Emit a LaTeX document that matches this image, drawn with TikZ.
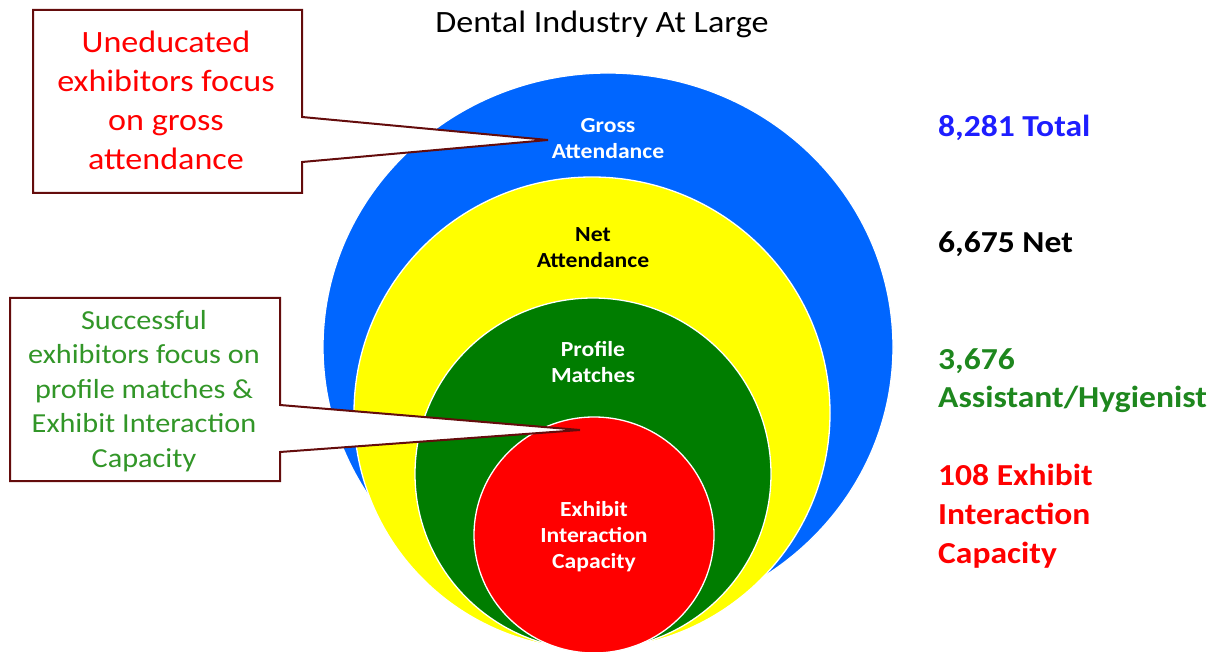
\documentclass[tikz,border=0pt]{standalone}
\usepackage{fontspec}
\setmainfont{Carlito}[FakeStretch=1.1]
\usetikzlibrary{positioning}
\definecolor{ringblue}{RGB}{0,102,255}
\definecolor{ringyellow}{RGB}{255,255,0}
\definecolor{ringgreen}{RGB}{0,125,0}
\definecolor{ringred}{RGB}{255,0,0}
\definecolor{calloutline}{RGB}{100,12,12}
\definecolor{totalblue}{RGB}{30,30,255}
\definecolor{notegreen}{RGB}{30,135,30}
\definecolor{boxgreen}{RGB}{50,150,40}

\tikzset{
  ring/.style={draw=white,line width=1.3pt},
  ringlabel/.style={align=center,anchor=base,font=\fontsize{21.5}{26}\selectfont\bfseries,inner sep=0pt},
  sidenote/.style={anchor=base west,align=left,font=\fontsize{30.5}{38.8}\selectfont\bfseries,inner sep=0pt},
  callout/.style={draw=calloutline,fill=white,line width=2pt,line join=miter},
  callouttext/.style={align=center,anchor=base,inner sep=0pt}
}

\begin{document}
\begin{tikzpicture}[x=1pt,y=-1pt]
  \useasboundingbox (0,0) rectangle (1211,652);

  % nested attendance rings
  \filldraw[ring,fill=ringblue] (608,347) ellipse (285 and 274);
  \filldraw[ring,fill=ringyellow] (592,413) ellipse (238 and 236);
  \filldraw[ring,fill=ringgreen] (593,474) ellipse (178 and 176);
  \filldraw[ring,fill=ringred] (594,535) ellipse (120 and 118);

  \node[font=\fontsize{31}{36}\selectfont,anchor=base,inner sep=0pt] (title) at (602,33) {Dental Industry At Large};

  % labels sit on the baseline of their last line
  \node[ringlabel,text=white] (gross) at (608,159) {Gross\\Attendance};
  \node[ringlabel,text=black] (net) at (593,268) {Net\\Attendance};
  \node[ringlabel,text=white] (profile) at (593,383) {Profile\\Matches};
  \node[ringlabel,text=white] (capacity) at (594,568) {Exhibit\\Interaction\\Capacity};

  % figures on the right
  \node[sidenote,text=totalblue] (total) at (938,137) {8,281 Total};
  \node[sidenote,text=black] (netcount) at (938,253) {6,675 Net};
  \node[sidenote,text=notegreen] (hyg) at (938,408) {3,676\\Assistant/Hygienist};
  \node[sidenote,text=ringred] (cap) at (938,563) {108 Exhibit\\Interaction\\Capacity};

  % callouts
  \coordinate (grosstip) at (548,140);
  \coordinate (captip) at (580,430);
  \draw[callout] (33,10) -- (302,10) -- (302,117) -- (grosstip) -- (302,162)
    -- (302,193) -- (33,193) -- cycle;
  \draw[callout] (10,298) -- (280,298) -- (280,405) -- (captip) -- (280,452)
    -- (280,481) -- (10,481) -- cycle;

  \node[callouttext,text=red,font=\fontsize{31}{39}\selectfont] (uneducated) at (166,170)
    {Uneducated\\exhibitors focus\\on gross\\attendance};
  \node[callouttext,text=boxgreen,font=\fontsize{27.5}{34.4}\selectfont] (successful) at (144,467)
    {Successful\\exhibitors focus on\\profile matches \&\\Exhibit Interaction\\Capacity};
\end{tikzpicture}
\end{document}
